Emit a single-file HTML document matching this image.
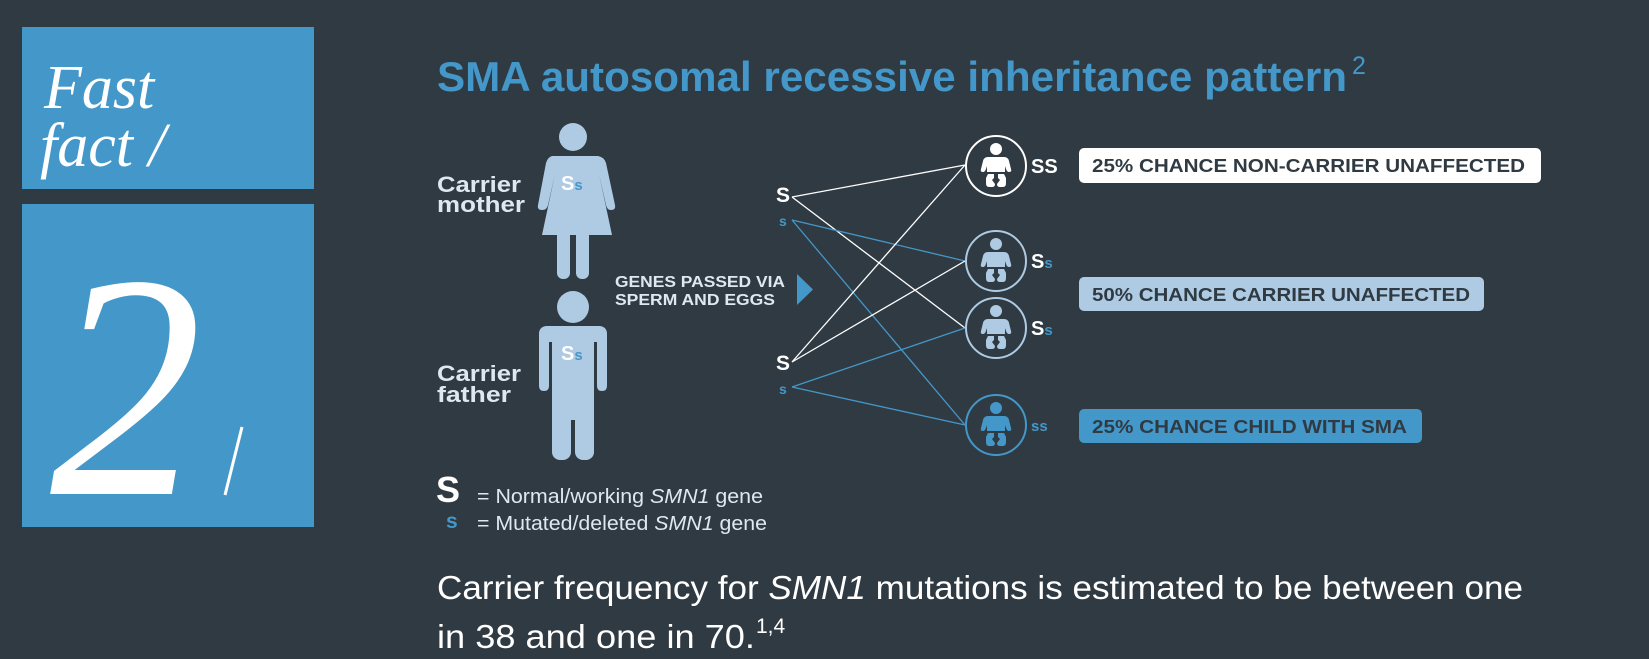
<!DOCTYPE html>
<html><head><meta charset="utf-8"><style>
html,body{margin:0;padding:0;background:#303a42;}
svg{display:block;font-family:"Liberation Sans",sans-serif;}
</style></head><body>
<svg width="1649" height="659" viewBox="0 0 1649 659" xmlns="http://www.w3.org/2000/svg">
<rect width="1649" height="659" fill="#303a42"/>
<!-- left boxes -->
<rect x="22" y="27" width="292" height="162" fill="#4497c9"/>
<rect x="22" y="204" width="292" height="323" fill="#4497c9"/>
<text x="44" y="108" style="font-family:'Liberation Serif',serif;font-style:italic" font-size="62" fill="#fff">Fast</text>
<text x="40" y="166" style="font-family:'Liberation Serif',serif;font-style:italic" font-size="62" fill="#fff">fact /</text>
<text x="50" y="494" style="font-family:'Liberation Serif',serif;font-style:italic" font-size="320" fill="#fff" textLength="152" lengthAdjust="spacingAndGlyphs">2</text>
<line x1="242" y1="427" x2="225" y2="495" stroke="#fff" stroke-width="3"/>

<!-- title -->
<text x="437" y="91" font-size="42" font-weight="bold" fill="#4497c9" textLength="910" lengthAdjust="spacingAndGlyphs">SMA autosomal recessive inheritance pattern</text>
<text x="1352" y="74" font-size="25" fill="#4497c9">2</text>

<!-- mother -->
<g fill="#aecbe3">
<circle cx="573" cy="137" r="14"/>
<path d="M548 156 L598 156 Q604 157 606 163 L615 205 Q616 210 611 210 Q607 210 606 205 L599 174 L612 235 L542 235 L555 174 L548 205 Q547 210 542 210 Q537 210 538 205 L546 163 Q548 157 552 156 Z"/>
<rect x="557" y="230" width="13" height="49" rx="6"/>
<rect x="576" y="230" width="13" height="49" rx="6"/>
<!-- father -->
<circle cx="573" cy="307" r="16"/>
<path d="M546 326 L600 326 Q607 327 607 334 L607 386 Q607 391 602 391 Q597 391 597 386 L597 342 L594 342 L594 420 L552 420 L552 342 L549 342 L549 386 Q549 391 544 391 Q539 391 539 386 L539 334 Q539 327 546 326 Z"/>
<rect x="552" y="400" width="19" height="60" rx="8"/>
<rect x="575" y="400" width="19" height="60" rx="8"/>
</g>
<text x="561" y="190" font-size="20" font-weight="bold" fill="#fff">S<tspan fill="#4497c9" font-size="15">s</tspan></text>
<text x="561" y="360" font-size="20" font-weight="bold" fill="#fff">S<tspan fill="#4497c9" font-size="15">s</tspan></text>
<g font-size="22" font-weight="bold" fill="#dfe8ef">
<text x="437" y="192" textLength="84" lengthAdjust="spacingAndGlyphs">Carrier</text>
<text x="437" y="212" textLength="88" lengthAdjust="spacingAndGlyphs">mother</text>
<text x="437" y="381" textLength="84" lengthAdjust="spacingAndGlyphs">Carrier</text>
<text x="437" y="402" textLength="74" lengthAdjust="spacingAndGlyphs">father</text>
</g>
<g font-size="15.5" font-weight="bold" fill="#dfe8ef">
<text x="615" y="287" textLength="170" lengthAdjust="spacingAndGlyphs">GENES PASSED VIA</text>
<text x="615" y="305" textLength="160" lengthAdjust="spacingAndGlyphs">SPERM AND EGGS</text>
</g>
<polygon points="797,274 813,289.5 797,305" fill="#4497c9"/>

<!-- allele labels -->
<text x="776" y="202" font-size="21" font-weight="bold" fill="#fff">S</text>
<text x="779" y="226" font-size="14" font-weight="bold" fill="#4497c9">s</text>
<text x="776" y="370" font-size="21" font-weight="bold" fill="#fff">S</text>
<text x="779" y="394" font-size="14" font-weight="bold" fill="#4497c9">s</text>

<!-- lines -->
<g stroke-width="1.3" fill="none">
<line x1="792" y1="197" x2="965" y2="165" stroke="#fff"/>
<line x1="792" y1="197" x2="965" y2="328" stroke="#fff"/>
<line x1="792" y1="220" x2="965" y2="261" stroke="#4497c9"/>
<line x1="792" y1="220" x2="965" y2="425" stroke="#4497c9"/>
<line x1="792" y1="362" x2="965" y2="165" stroke="#fff"/>
<line x1="792" y1="362" x2="965" y2="261" stroke="#fff"/>
<line x1="792" y1="387" x2="965" y2="328" stroke="#4497c9"/>
<line x1="792" y1="387" x2="965" y2="425" stroke="#4497c9"/>
</g>

<!-- babies -->
<defs>
<g id="baby">
<circle cx="0" cy="-17" r="6"/>
<path d="M-8 -9 L8 -9 Q12 -9 13 -5 L15 3 Q16 6 13 6 Q11 6 10 3 L9 0 L9 6 L-9 6 L-9 0 L-10 3 Q-11 6 -13 6 Q-16 6 -15 3 L-13 -5 Q-12 -9 -8 -9 Z"/>
<path d="M-8 8 L-2 8 L-2 12 L-4 14 L-1 18 Q-1 21 -4 21 L-7 21 Q-10 21 -10 17 L-10 12 Z"/>
<path d="M8 8 L2 8 L2 12 L4 14 L1 18 Q1 21 4 21 L7 21 Q10 21 10 17 L10 12 Z"/>
</g>
</defs>
<circle cx="996" cy="166" r="30" fill="none" stroke="#fff" stroke-width="2"/>
<use href="#baby" x="996" y="166" fill="#fff"/>
<circle cx="996" cy="261" r="30" fill="none" stroke="#aecbe3" stroke-width="2"/>
<use href="#baby" x="996" y="261" fill="#aecbe3"/>
<circle cx="996" cy="328" r="30" fill="none" stroke="#aecbe3" stroke-width="2"/>
<use href="#baby" x="996" y="328" fill="#aecbe3"/>
<circle cx="996" cy="425" r="30" fill="none" stroke="#4497c9" stroke-width="2"/>
<use href="#baby" x="996" y="425" fill="#4497c9"/>

<text x="1031" y="173" font-size="20" font-weight="bold" fill="#fff">SS</text>
<text x="1031" y="268" font-size="20" font-weight="bold" fill="#fff">S<tspan fill="#4497c9" font-size="15">s</tspan></text>
<text x="1031" y="335" font-size="20" font-weight="bold" fill="#fff">S<tspan fill="#4497c9" font-size="15">s</tspan></text>
<text x="1031" y="431" font-size="15" font-weight="bold" fill="#4497c9">ss</text>

<!-- outcome boxes -->
<rect x="1079" y="148" width="462" height="35" rx="5" fill="#fff"/>
<text x="1092" y="172" font-size="18" font-weight="bold" fill="#303a42" textLength="433" lengthAdjust="spacingAndGlyphs">25% CHANCE NON-CARRIER UNAFFECTED</text>
<rect x="1079" y="277" width="405" height="34" rx="5" fill="#aecbe3"/>
<text x="1092" y="301" font-size="18" font-weight="bold" fill="#303a42" textLength="378" lengthAdjust="spacingAndGlyphs">50% CHANCE CARRIER UNAFFECTED</text>
<rect x="1079" y="409" width="343" height="34" rx="5" fill="#4497c9"/>
<text x="1092" y="433" font-size="18" font-weight="bold" fill="#303a42" textLength="315" lengthAdjust="spacingAndGlyphs">25% CHANCE CHILD WITH SMA</text>

<!-- legend -->
<text x="436" y="502" font-size="36" font-weight="bold" fill="#fff">S</text>
<text x="446" y="528" font-size="21" font-weight="bold" fill="#4497c9">s</text>
<text x="477" y="503" font-size="20" fill="#dfe8ef" textLength="286" lengthAdjust="spacingAndGlyphs">= Normal/working <tspan font-style="italic">SMN1</tspan> gene</text>
<text x="477" y="530" font-size="20" fill="#dfe8ef" textLength="290" lengthAdjust="spacingAndGlyphs">= Mutated/deleted <tspan font-style="italic">SMN1</tspan> gene</text>

<!-- paragraph -->
<text x="437" y="599" font-size="33" fill="#fff" textLength="1086" lengthAdjust="spacingAndGlyphs">Carrier frequency for <tspan font-style="italic">SMN1</tspan> mutations is estimated to be between one</text>
<text x="437" y="648" font-size="33" fill="#fff" textLength="318" lengthAdjust="spacingAndGlyphs">in 38 and one in 70.</text>
<text x="756" y="633" font-size="21" fill="#fff">1,4</text>
</svg>
</body></html>
